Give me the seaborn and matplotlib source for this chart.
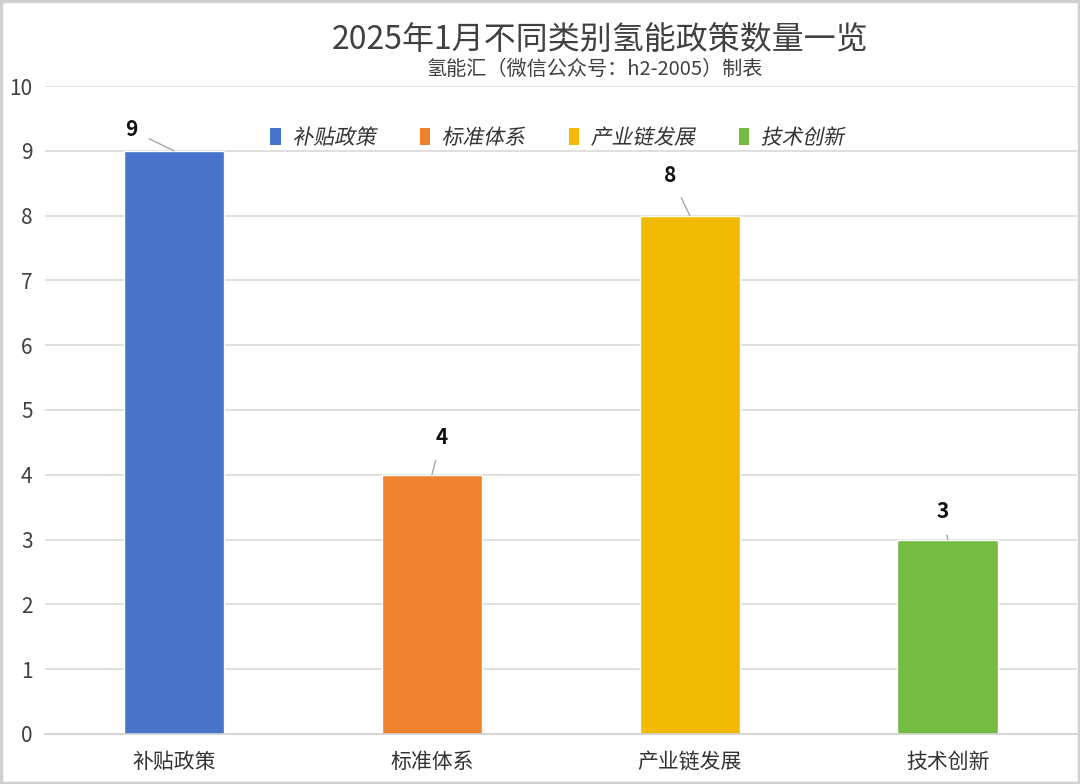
import matplotlib
matplotlib.use("Agg")
import matplotlib.pyplot as plt
import seaborn as sns
import pandas as pd
from matplotlib.patches import Patch, Rectangle
from matplotlib.patheffects import AbstractPathEffect
from matplotlib.transforms import Affine2D

categories = ["补贴政策", "标准体系", "产业链发展", "技术创新"]
values = [9, 4, 8, 3]
colors = ["#4874CB", "#EE822F", "#F2BA02", "#75BD42"]
yticks = [0, 1, 2, 3, 4, 5, 6, 7, 8, 9, 10]
title = "2025年1月不同类别氢能政策数量一览"
subtitle = "氢能汇（微信公众号：h2-2005）制表"
# label offsets (points) for leader-line data labels
label_dx = [-31, 7, -14, -4]
label_dy = [15, 27, 29, 20]


class Italic(AbstractPathEffect):
    def draw_path(self, renderer, gc, tpath, affine, rgbFace=None):
        renderer.draw_path(gc, tpath, Affine2D().skew_deg(12, 0) + affine, rgbFace)


sns.set_theme(style="white")
plt.rcParams["font.family"] = ["Noto Sans CJK SC", "DejaVu Sans"]

df = pd.DataFrame({"cat": categories, "val": values})

fig = plt.figure(figsize=(10.8, 7.84), dpi=100)
ax = fig.add_axes([0.0417, 0.0638, 0.9553, 0.8265])

sns.barplot(data=df, x="cat", y="val", hue="cat", palette=colors,
            width=0.39, ax=ax, legend=False, saturation=1)

ax.set_ylim(0, 10)
ax.set_xlim(-0.5, len(categories) - 0.5)
ax.set_yticks(yticks)
ax.yaxis.grid(True, color="#D9D9D9", linewidth=1.2)
ax.set_axisbelow(True)
ax.set_xlabel("")
ax.set_ylabel("")
for s in ["left", "right", "top"]:
    ax.spines[s].set_visible(False)
ax.spines["bottom"].set_color("#D0D0D0")
ax.spines["bottom"].set_linewidth(1.2)

ax.tick_params(axis="y", length=0, labelsize=15, labelcolor="#404040", pad=9)
ax.tick_params(axis="x", which="major", length=0, labelsize=15,
               labelcolor="#333333", pad=12)
for lab in ax.get_xticklabels() + ax.get_yticklabels():
    lab.set_fontweight("medium")
ax.set_xticks([i - 0.5 for i in range(len(categories) + 1)], minor=True)
ax.tick_params(axis="x", which="minor", length=7, width=1.2, color="#D0D0D0",
               direction="out")

for i, v in enumerate(values):
    ax.annotate(str(v), xy=(i, v), xytext=(label_dx[i], label_dy[i]),
                textcoords="offset points", ha="center", va="center",
                fontsize=15, fontweight="bold", color="#111111",
                arrowprops=dict(arrowstyle="-", color="#A6A6A6", lw=1,
                                shrinkA=7, shrinkB=0))

handles = [Patch(facecolor=c, edgecolor="none") for c in colors]
leg = fig.legend(handles, categories, loc="center", bbox_to_anchor=(0.516, 0.824),
                 ncol=4, frameon=False, handlelength=0.5, handleheight=0.85,
                 columnspacing=2.1, handletextpad=0.55,
                 prop={"size": 15}, labelcolor="#333333")
for t in leg.get_texts():
    t.set_path_effects([Italic()])

fig.text(0.556, 0.948, title, ha="center", va="center", fontsize=23,
         fontweight="medium", color="#404040")
fig.text(0.551, 0.911, subtitle, ha="center", va="center", fontsize=14.5,
         fontweight="medium", color="#404040")

fig.patches.append(Rectangle((0.001, 0.001), 0.998, 0.998, transform=fig.transFigure,
                             fill=False, edgecolor="#D0D0D0", linewidth=2.5))

fig.savefig("out.png", dpi=100)
